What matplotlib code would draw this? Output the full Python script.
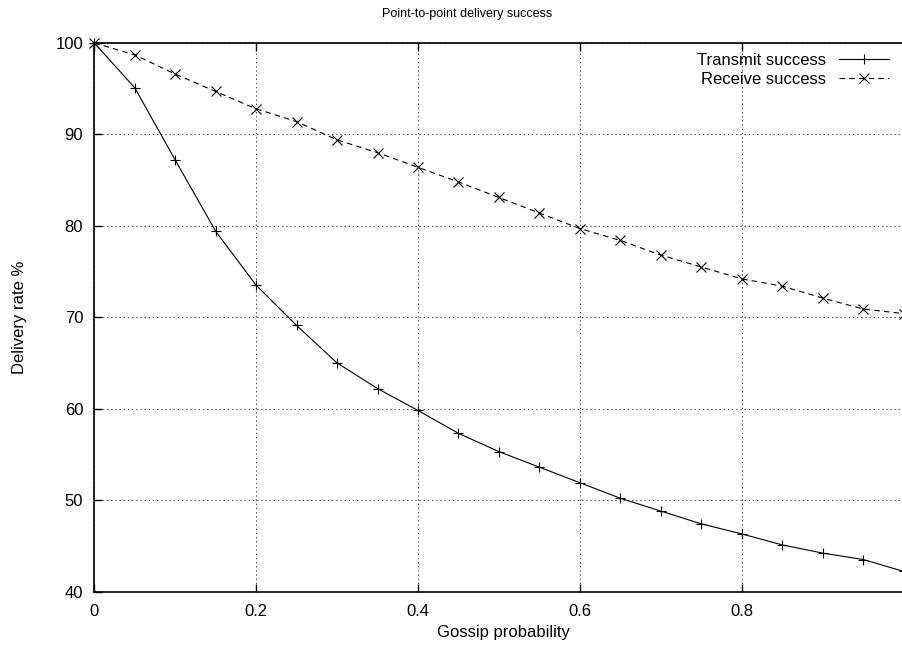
import matplotlib
matplotlib.use('Agg')
import matplotlib.pyplot as plt

plt.rcParams['font.family'] = ['Liberation Sans', 'DejaVu Sans']
plt.rcParams['lines.scale_dashes'] = False

# gossip probability steps
gossip_prob = [0.0, 0.05, 0.1, 0.15, 0.2, 0.25, 0.3, 0.35, 0.4, 0.45, 0.5,
               0.55, 0.6, 0.65, 0.7, 0.75, 0.8, 0.85, 0.9, 0.95, 1.0]
transmit_success = [100.0, 95.1, 87.2, 79.4, 73.5, 69.1, 65.0, 62.2, 59.8, 57.3, 55.3,
                    53.6, 51.9, 50.2, 48.8, 47.4, 46.3, 45.1, 44.2, 43.5, 42.2]
receive_success = [100.0, 98.7, 96.6, 94.7, 92.8, 91.4, 89.4, 88.0, 86.4, 84.8, 83.1,
                   81.4, 79.7, 78.4, 76.8, 75.5, 74.2, 73.4, 72.1, 70.9, 70.4]
x_ticks = [0, 0.2, 0.4, 0.6, 0.8]
x_labels = ['0', '0.2', '0.4', '0.6', '0.8']
y_ticks = [40, 50, 60, 70, 80, 90, 100]

fig = plt.figure(figsize=(9.02, 6.49), dpi=100)
# axes run a bit past the right edge of the picture, as in the original
ax = fig.add_axes([94.3 / 902, 1 - 591.5 / 649, 809.3 / 902, 548.5 / 649])

ax.plot(gossip_prob, transmit_success, color='black', lw=0.8, marker='+',
        ms=7.5, mew=0.8, label='Transmit success', clip_on=False)
ax.plot(gossip_prob, receive_success, color='black', lw=0.8, marker='x',
        ms=6.5, mew=0.8, dashes=(4, 3), label='Receive success', clip_on=False)

ax.set_xlim(0, 1)
ax.set_ylim(40, 100)
ax.set_xticks(x_ticks)
ax.set_xticklabels(x_labels)
ax.set_yticks(y_ticks)

ax.grid(True, color='#444444', lw=0.7, dashes=(1, 2.0))
ax.tick_params(direction='in', length=6, width=1, top=True, right=False,
               labelsize=12, colors='black')
ax.tick_params(axis='x', pad=9)
ax.tick_params(axis='y', pad=8)
for s in ax.spines.values():
    s.set_linewidth(1.2)
ax.spines['right'].set_visible(False)

fig.text(467 / 902, 1 - 14 / 649, 'Point-to-point delivery success',
         ha='center', va='center', fontsize=9)
fig.text(503 / 902, 1 - 633 / 649, 'Gossip probability',
         ha='center', va='center', fontsize=12)
fig.text(20 / 902, 1 - 317 / 649, 'Delivery rate %', rotation=90,
         ha='center', va='center', fontsize=12)

ax.legend(loc='upper right', bbox_to_anchor=(889 / 902, 1 - 53 / 649),
          bbox_transform=fig.transFigure, frameon=False, markerfirst=False,
          fontsize=12, handlelength=3.0, handletextpad=0.8, borderpad=0,
          borderaxespad=0, labelspacing=0.22, numpoints=1)

fig.savefig('out.png', dpi=100)
